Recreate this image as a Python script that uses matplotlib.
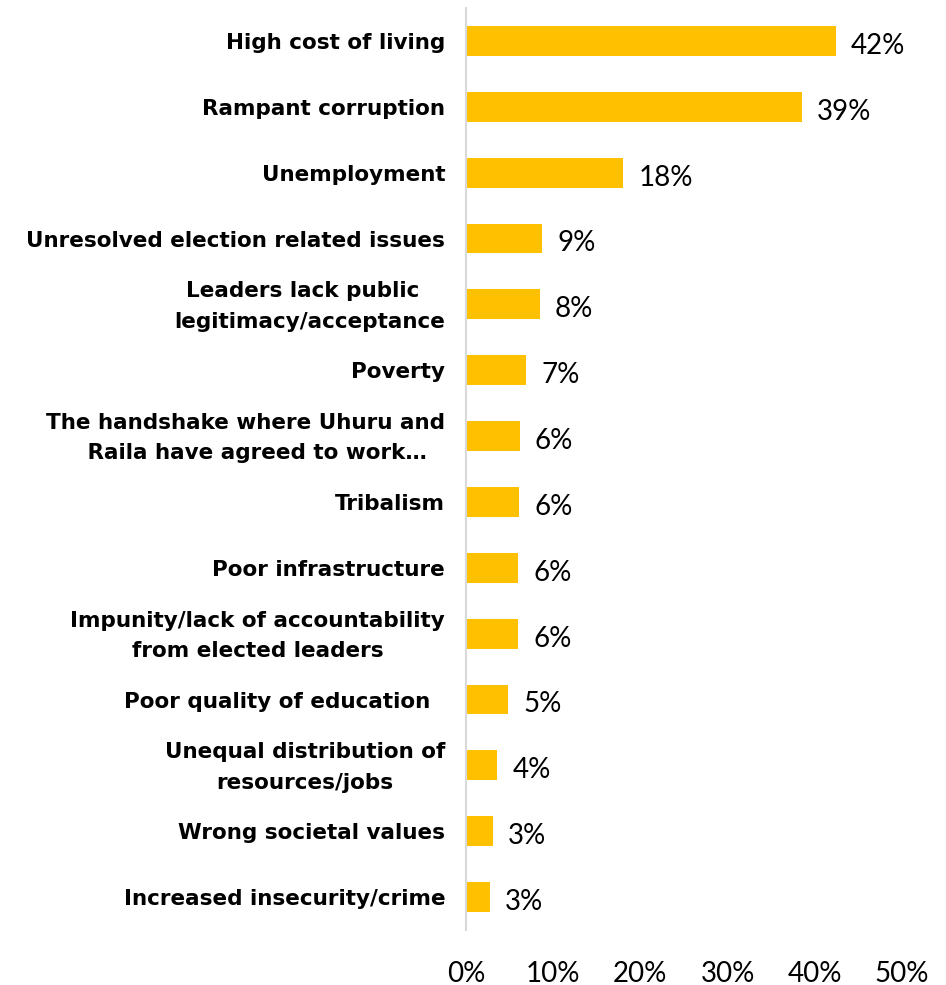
import matplotlib
matplotlib.use("Agg")
import matplotlib.pyplot as plt
from matplotlib.transforms import ScaledTranslation

categories = [
    "High cost of living",
    "Rampant corruption",
    "Unemployment",
    "Unresolved election related issues",
    "Leaders lack public  \nlegitimacy/acceptance",
    "Poverty",
    "The handshake where Uhuru and\n   Raila have agreed to work…",
    "Tribalism",
    "Poor infrastructure",
    "Impunity/lack of accountability\nfrom elected leaders",
    "Poor quality of education  ",
    "Unequal distribution of\nresources/jobs",
    "Wrong societal values",
    "Increased insecurity/crime",
]
values = [42.4, 38.5, 18.0, 8.7, 8.45, 6.85, 6.15, 6.05, 6.0, 6.0, 4.8, 3.6, 3.05, 2.7]
value_labels = ["42%", "39%", "18%", "9%", "8%", "7%", "6%", "6%", "6%", "6%", "5%", "4%", "3%", "3%"]
xticks = [0, 10, 20, 30, 40, 50]
xtick_labels = ["0%", "10%", "20%", "30%", "40%", "50%"]

BAR = "#FFC000"
W, H = 946, 985
fig = plt.figure(figsize=(W / 100, H / 100), dpi=100)
ax = fig.add_axes([466 / W, 1 - 930 / H, (902 - 466) / W, (930 - 8) / H])

y = list(range(len(categories)))
ax.barh(y, values, height=0.455, color=BAR, edgecolor="none")
ax.set_ylim(len(categories) - 0.5, -0.5)
ax.set_xlim(0, 50)

ax.set_yticks(y)
ax.set_yticklabels(categories, fontfamily="DejaVu Sans", fontweight="bold", fontsize=15.5,
                   multialignment="center", linespacing=1.65)
ax.set_xticks(xticks)
ax.set_xticklabels(xtick_labels, fontfamily="Lato", fontsize=20)
ax.tick_params(axis="y", length=0, pad=15)
ax.tick_params(axis="x", length=0, pad=22)

shift_up = ScaledTranslation(0, 5 / 100, fig.dpi_scale_trans)
for lbl in ax.get_yticklabels():
    if "\n" in lbl.get_text():
        lbl.set_transform(lbl.get_transform() + shift_up)

for s in ["top", "right", "bottom"]:
    ax.spines[s].set_visible(False)
ax.spines["left"].set_color("#D9D9D9")
ax.spines["left"].set_linewidth(1.5)

for yi, v, lab in zip(y, values, value_labels):
    ax.annotate(lab, xy=(v, yi), xytext=(11, -3.5), textcoords="offset points",
                ha="left", va="center", fontfamily="Lato", fontsize=20)

fig.savefig("out.png", dpi=100)
